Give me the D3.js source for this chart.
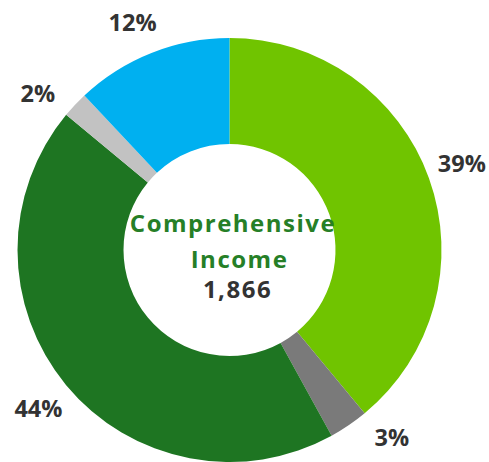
<!DOCTYPE html>
<html>
<head>
<meta charset="utf-8">
<script src="https://cdn.jsdelivr.net/npm/d3@7/dist/d3.min.js"></script>
<style>
  html, body { margin: 0; padding: 0; background: #fff; }
  svg { display: block; }
</style>
</head>
<body>
<svg id="chart" width="489" height="462"></svg>
<script>
const categories = ["Segment A", "Segment B", "Segment C", "Segment D", "Segment E"];
const values = [39, 3, 44, 2, 12];
const labels = ["39%", "3%", "44%", "2%", "12%"];
const colors = ["#70C400", "#7A7A7A", "#1E7522", "#C2C2C2", "#00B0F0"];
const centerTitle = ["Comprehensive", "Income"];
const centerValue = "1,866";

const width = 489, height = 462;
const cx = 229.5, cy = 250;
const outerR = 212, innerR = 106, labelR = 248;
// small angular nudges (degrees) for label placement, as in the reference
const labelNudgeDeg = [-0.7, -6.7, 0, -3.8, -1.4];

const svg = d3.select("#chart");
const g = svg.append("g").attr("transform", `translate(${cx},${cy})`);

const data = categories.map((c, i) => ({ cat: c, value: values[i], label: labels[i], color: colors[i], idx: i }));

const pie = d3.pie().value(d => d.value).sort(null);
const arcs = pie(data);

const arc = d3.arc().innerRadius(innerR).outerRadius(outerR);

g.selectAll("path.slice")
  .data(arcs)
  .join("path")
  .attr("class", "slice")
  .attr("d", arc)
  .attr("fill", d => d.data.color);

const font = "'Open Sans', sans-serif";

function labelPos(d) {
  const a = (d.startAngle + d.endAngle) / 2 + labelNudgeDeg[d.data.idx] * Math.PI / 180;
  return [labelR * Math.sin(a), -labelR * Math.cos(a)];
}

g.selectAll("text.pct")
  .data(arcs)
  .join("text")
  .attr("class", "pct")
  .attr("transform", d => `translate(${labelPos(d)})`)
  .attr("text-anchor", "middle")
  .attr("dominant-baseline", "central")
  .attr("font-family", font)
  .attr("font-weight", "bold")
  .attr("font-size", 23.5)
  .attr("fill", "#333333")
  .text(d => d.data.label);

const titleX = [3.5, 10];
g.selectAll("text.title")
  .data(centerTitle)
  .join("text")
  .attr("class", "title")
  .attr("x", (d, i) => titleX[i])
  .attr("y", (d, i) => -18 + i * 36)
  .attr("text-anchor", "middle")
  .attr("font-family", font)
  .attr("font-weight", "bold")
  .attr("font-size", 24)
  .attr("letter-spacing", 1.5)
  .attr("fill", "#267F27")
  .text(d => d);

g.append("text")
  .attr("x", 8)
  .attr("y", 48)
  .attr("text-anchor", "middle")
  .attr("font-family", font)
  .attr("font-weight", "bold")
  .attr("font-size", 24)
  .attr("letter-spacing", 1.5)
  .attr("fill", "#333333")
  .text(centerValue);
</script>
</body>
</html>
